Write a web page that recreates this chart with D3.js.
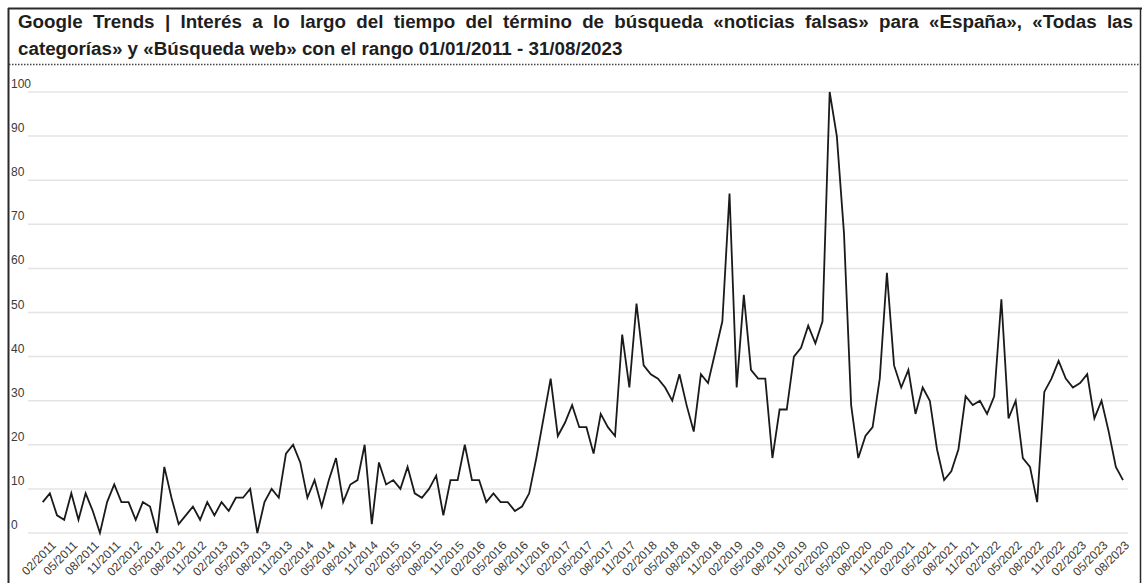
<!DOCTYPE html>
<html><head><meta charset="utf-8">
<script src="https://cdn.jsdelivr.net/npm/d3@7"></script>
<style>
html,body{margin:0;padding:0;background:#fff;}
svg{display:block;font-family:"Liberation Sans",Arial,sans-serif;}
</style></head>
<body><svg id="c" width="1142" height="583"></svg>
<script>
const titleLine1 = "Google Trends | Interés a lo largo del tiempo del término de búsqueda «noticias falsas» para «España», «Todas las";
const titleLine2 = "categorías» y «Búsqueda web» con el rango 01/01/2011 - 31/08/2023";
const startMonth = new Date(2011, 0, 1);
const endMonth = new Date(2023, 7, 1);
const values = [
 7,9,4,3,9,3,9,5,0,7,
 11,7,7,3,7,6,0,15,8,2,
 4,6,3,7,4,7,5,8,8,10,
 0,7,10,8,18,20,16,8,12,6,
 12,17,7,11,12,20,2,16,11,12,
 10,15,9,8,10,13,4,12,12,20,
 12,12,7,9,7,7,5,6,9,17,
 26,35,22,25,29,24,24,18,27,24,
 22,45,33,52,38,36,35,33,30,36,
 29,23,36,34,41,48,77,33,54,37,
 35,35,17,28,28,40,42,47,43,48,
 100,90,68,29,17,22,24,35,59,38,
 33,37,27,33,30,19,12,14,19,31,
 29,30,27,31,53,26,30,17,15,7,
 32,35,39,35,33,34,36,26,30,23,
 15,12
];
const yTicks = [0,10,20,30,40,50,60,70,80,90,100];
const xTickLabels = [
 "02/2011","05/2011","08/2011","11/2011",
 "02/2012","05/2012","08/2012","11/2012",
 "02/2013","05/2013","08/2013","11/2013",
 "02/2014","05/2014","08/2014","11/2014",
 "02/2015","05/2015","08/2015","11/2015",
 "02/2016","05/2016","08/2016","11/2016",
 "02/2017","05/2017","08/2017","11/2017",
 "02/2018","05/2018","08/2018","11/2018",
 "02/2019","05/2019","08/2019","11/2019",
 "02/2020","05/2020","08/2020","11/2020",
 "02/2021","05/2021","08/2021","11/2021",
 "02/2022","05/2022","08/2022","11/2022",
 "02/2023","05/2023","08/2023"
];

const fmt = d3.timeFormat("%m/%Y");
const categories = d3.timeMonth.range(startMonth, d3.timeMonth.offset(endMonth, 1)).map(fmt);
const data = categories.map((c, i) => ({c, v: values[i]}));

const svg = d3.select("#c");

// frame
svg.append("line").attr("x1",8).attr("x2",1142).attr("y1",8.5).attr("y2",8.5).attr("stroke","#2a2a2a").attr("stroke-width",2);
svg.append("line").attr("x1",8.5).attr("x2",8.5).attr("y1",8).attr("y2",583).attr("stroke","#2a2a2a").attr("stroke-width",2);
svg.append("line").attr("x1",1140.5).attr("x2",1140.5).attr("y1",8).attr("y2",583).attr("stroke","#2a2a2a").attr("stroke-width",1.5);

// title
const tFont = 18.8;
const t1 = svg.append("g");
const words = titleLine1.split(" ");
const wNodes = words.map(w => t1.append("text").attr("y",28).attr("font-size",tFont).attr("font-weight","bold").attr("fill","#1e1e1e").text(w));
const widths = wNodes.map(n => n.node().getComputedTextLength());
const left = 18, right = 1133;
const gap = (right - left - d3.sum(widths)) / (words.length - 1);
let xx = left;
wNodes.forEach((n, i) => { n.attr("x", xx); xx += widths[i] + gap; });
svg.append("text").attr("x",18).attr("y",55).attr("font-size",tFont).attr("font-weight","bold").attr("fill","#1e1e1e").text(titleLine2);

svg.append("line").attr("x1",9).attr("x2",1140).attr("y1",64.5).attr("y2",64.5)
  .attr("stroke","#444").attr("stroke-width",1.5).attr("stroke-dasharray","1.5,1.5");

// scales
const x = d3.scalePoint().domain(categories).range([42.7, 1123]);
const y = d3.scaleLinear().domain([0,100]).range([533, 92]);

// gridlines
svg.append("g").selectAll("line").data(yTicks).join("line")
  .attr("x1",28).attr("x2",1128)
  .attr("y1",d=>y(d)).attr("y2",d=>y(d))
  .attr("stroke","#e4e4e4").attr("stroke-width",1.5);

svg.append("g").selectAll("text").data(yTicks).join("text")
  .attr("x",11).attr("y",d=>y(d)-4)
  .attr("font-size",12).attr("fill","#3a3a3a").text(d=>d);

// x labels
svg.append("g").selectAll("text").data(xTickLabels).join("text")
  .attr("transform", d => `translate(${x(d)+4},${543}) rotate(-45)`)
  .attr("text-anchor","end").attr("dy","0.35em")
  .attr("font-size",12).attr("fill","#3a3a3a").text(d=>d);

// line
const line = d3.line().x(d=>x(d.c)).y(d=>y(d.v));
svg.append("path").datum(data).attr("d", line)
  .attr("fill","none").attr("stroke","#1a1a1a").attr("stroke-width",1.8).attr("stroke-linejoin","miter");
</script></body></html>
